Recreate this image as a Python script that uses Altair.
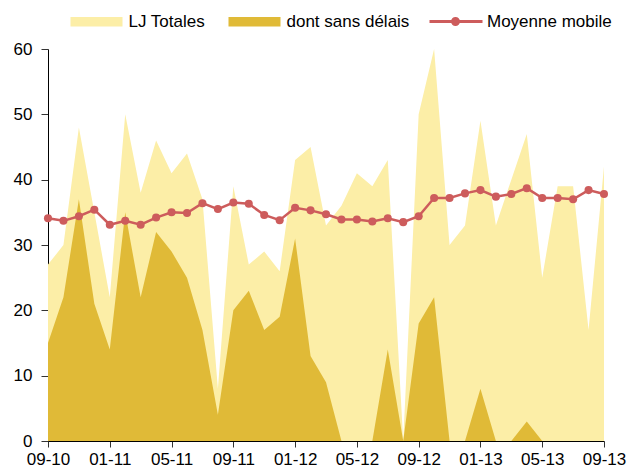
import altair as alt
import pandas as pd

mois = ["09-10", "10-10", "11-10", "12-10",
        "01-11", "02-11", "03-11", "04-11", "05-11", "06-11", "07-11", "08-11", "09-11", "10-11", "11-11", "12-11",
        "01-12", "02-12", "03-12", "04-12", "05-12", "06-12", "07-12", "08-12", "09-12", "10-12", "11-12", "12-12",
        "01-13", "02-13", "03-13", "04-13", "05-13", "06-13", "07-13", "08-13", "09-13"]

lj_totales = [27, 30, 48, 35, 22, 50, 38, 46, 41, 44, 37, 8, 39, 27, 29, 26, 43, 45, 33, 36, 41, 39, 43, 0,
              50, 60, 30, 33, 49, 33, 40, 47, 25, 39, 39, 17, 42]

sans_delais = [15, 22, 37, 21, 14, 35, 22, 32, 29, 25, 17, 4, 20, 23, 17, 19, 31, 13, 9, 0, 0, 0, 14, 0,
               18, 22, 0, 0, 8, 0, 0, 3, 0, 0, 0, 0, 0]

moyenne_mobile = [34.1, 33.7, 34.4, 35.4, 33.1, 33.7, 33.1, 34.2, 35.0, 34.9, 36.4, 35.5, 36.5, 36.3, 34.6,
                  33.8, 35.7, 35.3, 34.7, 33.9, 33.9, 33.6, 34.1, 33.5, 34.4, 37.2, 37.2, 37.9, 38.4, 37.4,
                  37.8, 38.7, 37.2, 37.2, 37.0, 38.4, 37.8]

x_ticks = ["09-10", "01-11", "05-11", "09-11", "01-12", "05-12", "09-12", "01-13", "05-13", "09-13"]
y_ticks = [0, 10, 20, 30, 40, 50, 60]

series = ["LJ Totales", "dont sans délais", "Moyenne mobile"]
LIGHT, DARK, RED = "#FCEEA7", "#E0BA37", "#CD5C5C"
FONT = "Liberation Sans"

df = pd.DataFrame({"mois": mois, "total": lj_totales, "sans": sans_delais, "moy": moyenne_mobile})

x_enc = alt.X("mois:O", sort=mois, title=None,
              scale=alt.Scale(type="point", padding=0),
              axis=alt.Axis(values=x_ticks, labelAngle=0, grid=False, domainColor="#000",
                            tickColor="#333", tickSize=6, labelPadding=4, labelFont=FONT,
                            labelFontSize=17, labelColor="#000", labelOverlap=False))

y_scale = alt.Scale(domain=[0, 60], nice=False)
y_axis = alt.Axis(values=y_ticks, grid=False, domainColor="#000", tickColor="#333", tickSize=7,
                  labelPadding=9, labelFont=FONT, labelFontSize=17, labelColor="#000")

area_legend = alt.Legend(title=None, orient="none", legendX=19, legendY=-36, direction="horizontal",
                         symbolType="M-1,-0.95H9.4V0.95H-1Z", symbolSize=100, symbolStrokeWidth=0,
                         labelOffset=44.5, columnPadding=19, labelFont=FONT, labelFontSize=17,
                         labelColor="#000", padding=0)
color_enc = alt.Color("serie:N", scale=alt.Scale(domain=series[:2], range=[LIGHT, DARK]), legend=area_legend)

base = alt.Chart(df)

a1 = base.mark_area(opacity=1).transform_calculate(serie="'LJ Totales'").encode(
    x=x_enc, y=alt.Y("total:Q", scale=y_scale, axis=y_axis, title=None, stack=None), color=color_enc)
a2 = base.mark_area(opacity=1).transform_calculate(serie="'dont sans délais'").encode(
    x=x_enc, y=alt.Y("sans:Q", scale=y_scale, axis=y_axis, title=None, stack=None), color=color_enc)

line = base.mark_line(color=RED, strokeWidth=2.5).encode(
    x=x_enc, y=alt.Y("moy:Q", scale=y_scale, axis=y_axis, title=None))

line_legend = alt.Legend(title=None, orient="none", legendX=378, legendY=-36,
                         symbolType="M-1,-0.3H9.6V0.3H-1Z M3.3,0A0.9,0.9 0 1,1 5.1,0A0.9,0.9 0 1,1 3.3,0Z",
                         symbolSize=100, symbolStrokeWidth=0, labelOffset=44, labelFont=FONT,
                         labelFontSize=17, labelColor="#000", padding=0)
pts = base.mark_circle(size=65, opacity=1).transform_calculate(serie="'Moyenne mobile'").encode(
    x=x_enc, y=alt.Y("moy:Q", scale=y_scale, axis=y_axis, title=None),
    fill=alt.Fill("serie:N", scale=alt.Scale(domain=series[2:], range=[RED]), legend=line_legend))

chart = alt.layer(a1, a2, line, pts).properties(
    width=556, height=392,
    padding={"left": 40, "top": 41, "right": 23, "bottom": 27},
    autosize=alt.AutoSizeParams(type="none"),
).configure_view(stroke=None)

chart.save("out.html", embed_options={"renderer": "svg", "actions": False})
